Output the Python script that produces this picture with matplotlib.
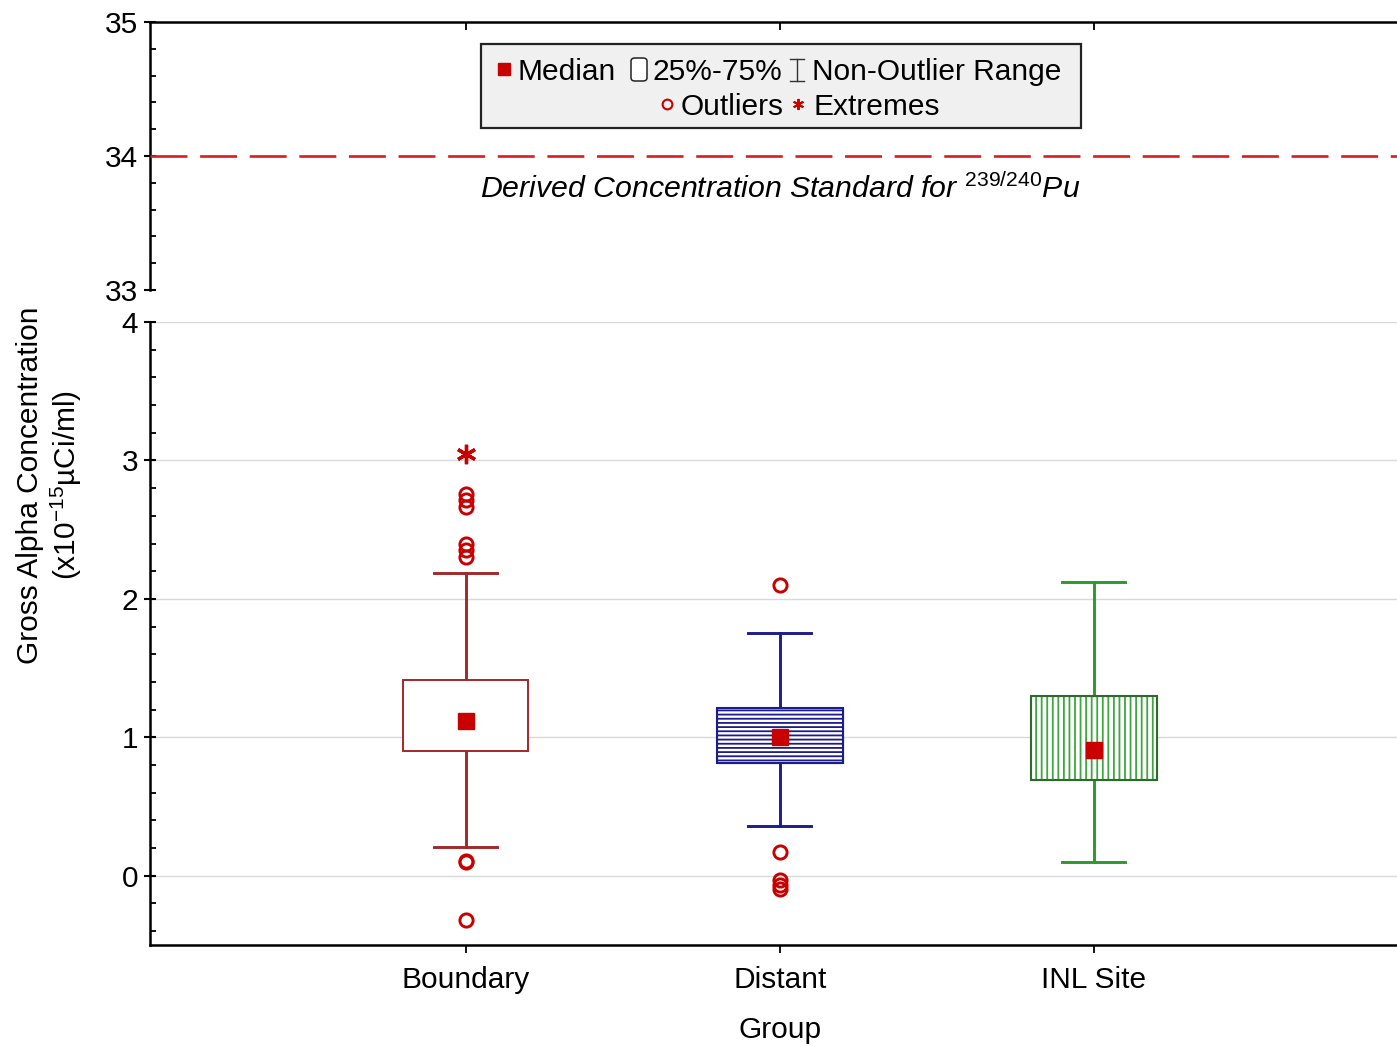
import matplotlib
matplotlib.use("Agg")
import matplotlib.pyplot as plt
from matplotlib.lines import Line2D
from matplotlib.patches import Rectangle, FancyBboxPatch

plt.rcParams['font.family'] = ['Liberation Sans', 'DejaVu Sans']
plt.rcParams['mathtext.fontset'] = 'custom'
plt.rcParams['mathtext.rm'] = 'Liberation Sans'
plt.rcParams['mathtext.it'] = 'Liberation Sans:italic'
plt.rcParams['hatch.linewidth'] = 1.3

# ---- data -------------------------------------------------------------
groups = ["Boundary", "Distant", "INL Site"]
q1 = [0.90, 0.815, 0.695]
q3 = [1.415, 1.21, 1.30]
medians = [1.12, 1.00, 0.91]
whisker_lo = [0.21, 0.36, 0.10]
whisker_hi = [2.19, 1.755, 2.125]
outliers = [
    [2.76, 2.715, 2.665, 2.40, 2.35, 2.30, 0.11, 0.10, -0.32],
    [2.10, 0.17, -0.03, -0.065, -0.095],
    [],
]
extremes = [[3.05], [], []]
dcs_value = 34.0

box_edge = ["#a3282a", "#1c1c8a", "#2e6a2e"]
hatch_color = [None, "#1c1c8a", "#3ea63e"]
box_hatch = [None, "----", "|||"]
whisker_color = ["#a3282a", "#1c1c8a", "#2a9a2a"]
point_red = "#c80000"

W, H = 1397, 1046
fig = plt.figure(figsize=(W / 100, H / 100), dpi=100)


def fx(x):
    return x / W


def fy(y):
    return 1 - y / H


# upper (broken) axis: 33-35, lower axis: -0.5-4
ax_top = fig.add_axes([fx(150), fy(290), fx(W) - fx(150), fy(22) - fy(290)])
ax = fig.add_axes([fx(150), fy(945), fx(W) - fx(150), fy(322) - fy(945)])

positions = [1, 2, 3]
xlim = (-0.005, 3.965)
FS = 21.5

# ---- boxes ------------------------------------------------------------
stats = []
for i, g in enumerate(groups):
    stats.append(dict(label=g, med=medians[i], q1=q1[i], q3=q3[i],
                      whislo=whisker_lo[i], whishi=whisker_hi[i],
                      fliers=outliers[i]))

bp = ax.bxp(stats, positions=positions, widths=0.4, capwidths=0.2,
            patch_artist=True, showfliers=True,
            medianprops=dict(linewidth=0),
            flierprops=dict(marker='o', markerfacecolor='none',
                            markeredgecolor=point_red, markersize=9.5,
                            markeredgewidth=2.1, linestyle='none'))
for i, box in enumerate(bp['boxes']):
    box.set_facecolor('white')
    box.set_zorder(3)
    if box_hatch[i]:
        # hatch drawn in its own colour, outline drawn on top
        box.set_edgecolor(hatch_color[i])
        box.set_hatch(box_hatch[i])
        box.set_linewidth(0.8)
        ax.add_patch(Rectangle((positions[i] - 0.2, q1[i]), 0.4,
                               q3[i] - q1[i], fill=False,
                               edgecolor=box_edge[i], linewidth=1.5,
                               zorder=4))
    else:
        box.set_edgecolor(box_edge[i])
        box.set_linewidth(1.4)
for i in range(len(groups)):
    for ln in bp['whiskers'][2 * i:2 * i + 2] + bp['caps'][2 * i:2 * i + 2]:
        ln.set_color(whisker_color[i])
        ln.set_linewidth(2.1)
        ln.set_zorder(2)

ax.plot(positions, medians, 's', color=point_red, markersize=12, zorder=5)
for i, ext in enumerate(extremes):
    if ext:
        ax.plot([positions[i]] * len(ext), ext, linestyle='none',
                marker=(6, 2, 0), markersize=14, markeredgewidth=2.4,
                color=point_red, zorder=5)

# ---- lower axis styling ----------------------------------------------
ax.set_xlim(*xlim)
ax.set_ylim(-0.5, 4)
ax.set_yticks([0, 1, 2, 3, 4])
ax.set_yticks([v / 5 for v in range(-2, 20)], minor=True)
ax.set_xticks(positions)
ax.set_xticklabels(groups, fontsize=FS)
ax.yaxis.grid(True, color='#d9d9d9', linewidth=1.0)
ax.set_axisbelow(True)
for s in ['top', 'right']:
    ax.spines[s].set_visible(False)
for s in ['left', 'bottom']:
    ax.spines[s].set_linewidth(1.8)
ax.tick_params(axis='y', which='major', direction='inout', length=9, width=1.5,
               labelsize=FS, pad=4)
ax.tick_params(axis='y', which='minor', direction='in', length=4, width=1.3)
ax.tick_params(axis='x', which='major', direction='out', length=6, width=1.3,
               pad=9)

# ---- upper axis styling ----------------------------------------------
ax_top.set_xlim(*xlim)
ax_top.set_ylim(33, 35)
ax_top.set_yticks([33, 34, 35])
ax_top.set_yticks([33 + v / 5 for v in range(11)], minor=True)
ax_top.set_xticks(positions)
ax_top.xaxis.tick_top()
ax_top.set_xticklabels([])
for s in ['bottom', 'right']:
    ax_top.spines[s].set_visible(False)
for s in ['left', 'top']:
    ax_top.spines[s].set_linewidth(1.8)
ax_top.tick_params(axis='y', which='major', direction='inout', length=9,
                   width=1.5, labelsize=FS, pad=4)
ax_top.tick_params(axis='y', which='minor', direction='in', length=4, width=1.3)
ax_top.tick_params(axis='x', which='major', direction='in', length=6, width=1.3)

ax_top.axhline(dcs_value, color='#d81e1e', linewidth=1.9,
               linestyle=(0, (14, 4.8)), zorder=3)
ax_top.text(2.0, dcs_value - 0.245,
            r"Derived Concentration Standard for $\mathit{^{239/240}Pu}$",
            ha='center', va='center', fontsize=FS + 0.3, style='italic')

# ---- axis titles ------------------------------------------------------
fig.text(fx(50), fy(485),
         "Gross Alpha Concentration\n(x10$^{-15}$\u00b5Ci/ml)",
         rotation=90, ha='center', va='center', fontsize=FS,
         multialignment='center', linespacing=1.2)
fig.text(fx(780), fy(1030), "Group", ha='center', va='center', fontsize=FS)

# ---- legend -----------------------------------------------------------
fig.add_artist(Rectangle((fx(481), fy(128)), fx(1081) - fx(481),
                         fy(44) - fy(128), transform=fig.transFigure,
                         facecolor='#f0f0f0', edgecolor='#222222',
                         linewidth=1.6, zorder=6))
tf = fig.transFigure
fig.add_artist(Line2D([fx(504)], [fy(69)], marker='s', color=point_red,
                      markersize=8.5, transform=tf, zorder=7))
fig.text(fx(518), fy(80), "Median", fontsize=FS, va='baseline', zorder=7)
fig.add_artist(FancyBboxPatch((fx(631), fy(81)), fx(647) - fx(631),
                              fy(58) - fy(81),
                              boxstyle="round,pad=0,rounding_size=0.003",
                              transform=tf, facecolor='white',
                              edgecolor='#222222', linewidth=1.1, zorder=7))
fig.text(fx(653), fy(80), "25%-75%", fontsize=FS, va='baseline', zorder=7)
for xs, ys in [([fx(797), fx(797)], [fy(59), fy(81)]),
               ([fx(790), fx(804)], [fy(59), fy(59)]),
               ([fx(790), fx(804)], [fy(81), fy(81)])]:
    fig.add_artist(Line2D(xs, ys, color='#333333', linewidth=1.0,
                          transform=tf, zorder=7))
fig.text(fx(812), fy(80), "Non-Outlier Range", fontsize=FS, va='baseline',
         zorder=7)
fig.add_artist(Line2D([fx(667)], [fy(104)], marker='o', markerfacecolor='none',
                      markeredgecolor=point_red, markersize=7,
                      markeredgewidth=1.5, transform=tf, zorder=7))
fig.text(fx(681), fy(115), "Outliers", fontsize=FS, va='baseline', zorder=7)
fig.add_artist(Line2D([fx(798)], [fy(104)], marker=(6, 2, 0), color=point_red,
                      markersize=8, markeredgewidth=1.4, transform=tf,
                      zorder=7))
fig.text(fx(813), fy(115), "Extremes", fontsize=FS, va='baseline', zorder=7)

fig.savefig("out.png", dpi=100)
